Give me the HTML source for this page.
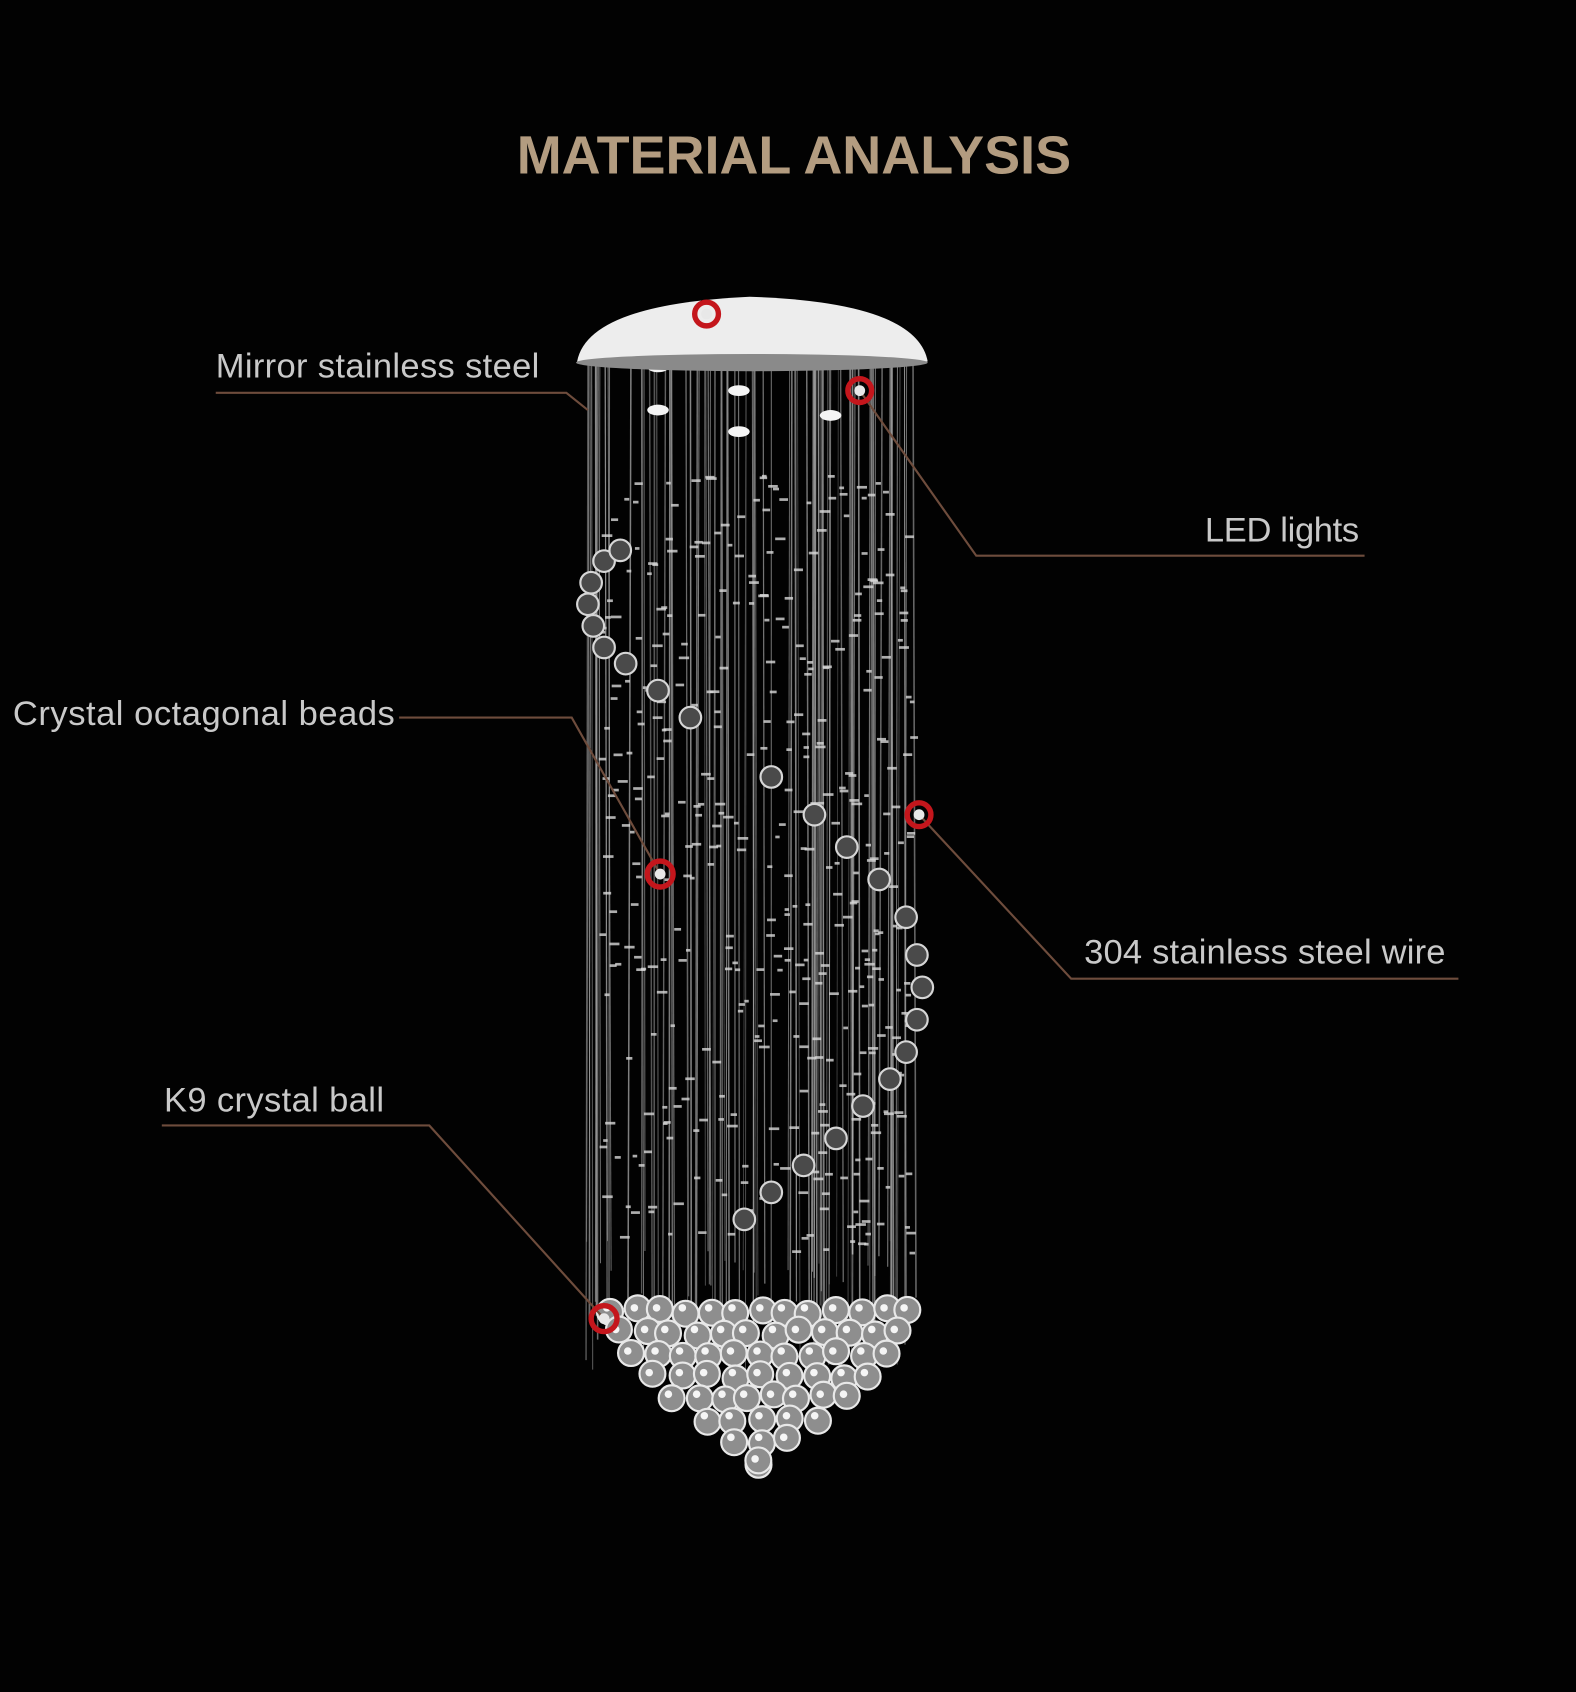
<!DOCTYPE html>
<html><head><meta charset="utf-8">
<style>
html,body{margin:0;padding:0;background:#000;}
svg{display:block;}
text{font-family:"Liberation Sans",sans-serif;}
</style></head>
<body>
<svg id="s" width="1576" height="1692" viewBox="0 0 1461 1568" preserveAspectRatio="none" xmlns="http://www.w3.org/2000/svg">
<rect width="1461" height="1568" fill="#020202"/>
<text x="736" y="161" text-anchor="middle" font-size="50" font-weight="bold" fill="#b39c80">MATERIAL ANALYSIS</text>
<g id="wires"></g>
<g id="beads"></g>
<path d="M535,335 Q545,282 695,275 Q850,280 860,335 Z" fill="#ededed"/>
<ellipse cx="697" cy="336" rx="163" ry="8" fill="#8a8a8a"/>
<g fill="#c9c9c9">
<text x="200" y="350" font-size="32" textLength="300">Mirror stainless steel</text>
<text x="1117" y="502" font-size="32" textLength="143">LED lights</text>
<text x="12" y="672" font-size="32" textLength="354">Crystal octagonal beads</text>
<text x="1005" y="893" font-size="32" textLength="335">304 stainless steel wire</text>
<text x="152" y="1030" font-size="32" textLength="204">K9 crystal ball</text>
</g>
<g stroke="#6e4c3c" stroke-width="2" fill="none">
<polyline points="200,364 525,364 545,380"/>
<polyline points="1265,515 905,515 797,362"/>
<polyline points="370,665 530,665 612,810"/>
<polyline points="1352,907 993,907 852,755"/>
<polyline points="150,1043 398,1043 560,1222"/>
</g>
<g fill="none" stroke="#c4161c" stroke-width="5">
<circle cx="655" cy="291" r="11"/>
<circle cx="797" cy="362" r="11"/>
<circle cx="612" cy="810" r="12"/>
<circle cx="852" cy="755" r="11"/>
<circle cx="560" cy="1222" r="12"/>
</g>
<g fill="#e8e8e8">
<circle cx="655" cy="291" r="5"/><circle cx="797" cy="362" r="5"/><circle cx="612" cy="810" r="5"/><circle cx="852" cy="755" r="5"/><circle cx="560" cy="1222" r="5"/>
</g>
</svg>
<script>
(function(){
var ns="http://www.w3.org/2000/svg";
var seed=7;function r(){seed=(seed*16807)%2147483647;return (seed-1)/2147483646;}
var w=document.getElementById('wires'),b=document.getElementById('beads');
function el(p,t,a){var e=document.createElementNS(ns,t);for(var k in a)e.setAttribute(k,a[k]);p.appendChild(e);return e;}
for(var i=0;i<100;i++){
  var x=545+r()*305;
  var y2=1150+r()*120;
  var c=Math.floor(100+r()*90);
  el(w,'line',{x1:x,y1:336,x2:x+(r()-0.5)*6,y2:y2,stroke:'rgb('+c+','+c+','+c+')','stroke-width':0.7+r()*0.8,opacity:0.7});
}
for(var i=0;i<420;i++){
  var y=440+r()*720;
  var x=555+r()*290;
  el(b,'rect',{x:x,y:y,width:4+r()*6,height:2.5,fill:'#d8d8d8',opacity:0.8});
}
[[610,340],[710,325],[685,362],[610,380],[770,385],[685,400]].forEach(function(p){
  el(b,'ellipse',{cx:p[0],cy:p[1],rx:10,ry:5,fill:'#f4f4f4'});
});
var sp=[[560,520],[575,510],[548,540],[545,560],[550,580],[560,600],[580,615],[610,640],[640,665],[715,720],[755,755],[785,785],[815,815],[840,850],[850,885],[855,915],[850,945],[840,975],[825,1000],[800,1025],[775,1055],[745,1080],[715,1105],[690,1130]];
sp.forEach(function(p){el(b,'circle',{cx:p[0],cy:p[1],r:10,fill:'#4a4a4a',stroke:'#d6d6d6','stroke-width':2});});
for(var row=0;row<8;row++){
  var y=1215+row*20;
  var half=150-row*row*2.2-row*6;
  var n=Math.max(2,Math.round(half*2/24));
  for(var k=0;k<n;k++){
    var x=705-half+(k+0.5)*(2*half/n)+(r()-0.5)*6;
    el(b,'circle',{cx:x,cy:y+(r()-0.5)*6,r:12,fill:'#8e8e8e',stroke:'#e8e8e8','stroke-width':2});
    el(b,'circle',{cx:x-3,cy:y-3,r:3.5,fill:'#f5f5f5'});
  }
}
})();
</script>
</body></html>
